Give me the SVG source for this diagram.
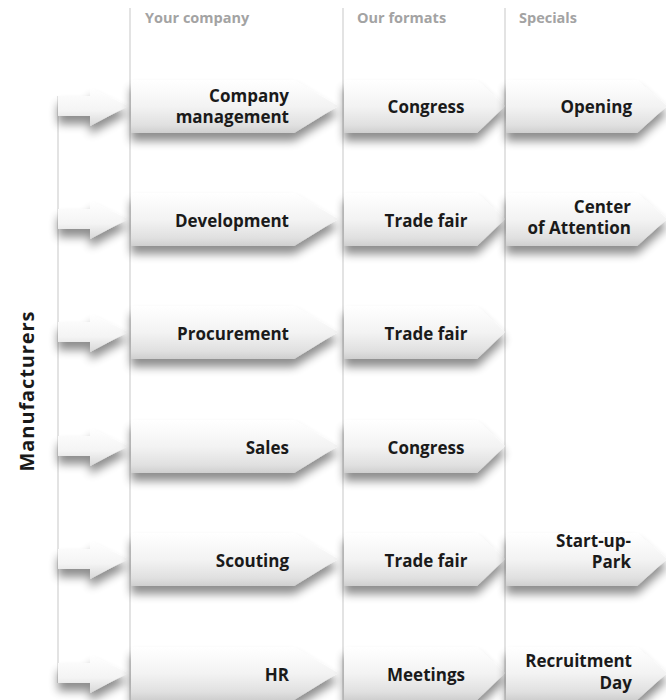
<svg xmlns="http://www.w3.org/2000/svg" width="666" height="700" viewBox="0 0 666 700">
  <defs>
    <linearGradient id="g" x1="0" y1="0" x2="0" y2="1">
      <stop offset="0" stop-color="#ffffff"/>
      <stop offset="0.5" stop-color="#f3f3f3"/>
      <stop offset="0.85" stop-color="#e0e0e0"/>
      <stop offset="1" stop-color="#cfcfcf"/>
    </linearGradient>
    <linearGradient id="gs" x1="0" y1="0" x2="0" y2="1">
      <stop offset="0" stop-color="#ffffff"/>
      <stop offset="0.6" stop-color="#f4f4f4"/>
      <stop offset="1" stop-color="#d8d8d8"/>
    </linearGradient>
    <filter id="sh" x="-20%" y="-50%" width="140%" height="220%">
      <feGaussianBlur in="SourceAlpha" stdDeviation="5"/>
      <feOffset dy="8" result="o"/>
      <feComponentTransfer>
        <feFuncA type="linear" slope="0.45"/>
      </feComponentTransfer>
      <feMerge>
        <feMergeNode/>
        <feMergeNode in="SourceGraphic"/>
      </feMerge>
    </filter>
  </defs>
  <style>
    .guide { stroke: #e3e3e3; stroke-width: 2; fill: none; }
    .hdr { font-family: "Open Sans", "Liberation Sans", sans-serif; font-weight: 700; font-size: 14.5px; fill: #a3a3a3; }
    .box { fill: url(#g); filter: url(#sh); }
    .small { fill: url(#gs); filter: url(#sh); }
    .lbl { font-family: "Open Sans", "Liberation Sans", sans-serif; font-weight: 700; font-size: 17px; fill: #1a1a1a; }
    .r { text-anchor: end; }
    .c { text-anchor: middle; }
    .side { font-family: "Open Sans", "Liberation Sans", sans-serif; font-weight: 700; font-size: 20px; fill: #1a1a1a; letter-spacing: 0.9px; }
  </style>

  <g id="guides">
    <line class="guide" x1="130" y1="8" x2="130" y2="700"/>
    <line class="guide" x1="343" y1="8" x2="343" y2="700"/>
    <line class="guide" x1="505" y1="8" x2="505" y2="700"/>
  </g>

  <g id="headers">
    <text class="hdr" x="145" y="23">Your company</text>
    <text class="hdr" x="357" y="23">Our formats</text>
    <text class="hdr" x="519" y="23">Specials</text>
  </g>

  <g id="manufacturers">
    <text class="side" transform="translate(34,391) rotate(-90)" text-anchor="middle">Manufacturers</text>
  </g>

  <g id="connectors">
    <line class="guide" x1="58" y1="96" x2="58" y2="683"/>
    <path class="small" d="M58,96 H90 V88 L128,106 L90,126 V116 H58 Z"/>
    <path class="small" d="M58,209 H90 V201 L128,219 L90,239 V229 H58 Z"/>
    <path class="small" d="M58,322 H90 V314 L128,332 L90,352 V342 H58 Z"/>
    <path class="small" d="M58,436 H90 V428 L128,446 L90,466 V456 H58 Z"/>
    <path class="small" d="M58,549 H90 V541 L128,559 L90,579 V569 H58 Z"/>
    <path class="small" d="M58,663 H90 V655 L128,673 L90,693 V683 H58 Z"/>
  </g>

  <g id="row1-company">
    <path class="box" d="M131,80 H294 L338,106 L294,133 H131 Z"/>
    <text class="lbl r" x="289" y="102">Company</text>
    <text class="lbl r" x="289" y="123">management</text>
  </g>
  <g id="row1-format">
    <path class="box" d="M344,80 H477 L505,106 L477,133 H344 Z"/>
    <text class="lbl c" x="426" y="113">Congress</text>
  </g>
  <g id="row1-special">
    <path class="box" d="M506,80 H637 L667,106 L637,133 H506 Z"/>
    <text class="lbl r" x="632" y="113">Opening</text>
  </g>

  <g id="row2-company">
    <path class="box" d="M131,193 H294 L338,219 L294,246 H131 Z"/>
    <text class="lbl r" x="289" y="227">Development</text>
  </g>
  <g id="row2-format">
    <path class="box" d="M344,193 H477 L505,219 L477,246 H344 Z"/>
    <text class="lbl c" x="426" y="227">Trade fair</text>
  </g>
  <g id="row2-special">
    <path class="box" d="M506,193 H637 L667,219 L637,246 H506 Z"/>
    <text class="lbl r" x="631" y="213">Center</text>
    <text class="lbl r" x="631" y="234">of Attention</text>
  </g>

  <g id="row3-company">
    <path class="box" d="M131,306 H294 L338,332 L294,359 H131 Z"/>
    <text class="lbl r" x="289" y="340">Procurement</text>
  </g>
  <g id="row3-format">
    <path class="box" d="M344,306 H477 L505,332 L477,359 H344 Z"/>
    <text class="lbl c" x="426" y="340">Trade fair</text>
  </g>

  <g id="row4-company">
    <path class="box" d="M131,420 H294 L338,446 L294,473 H131 Z"/>
    <text class="lbl r" x="289" y="454">Sales</text>
  </g>
  <g id="row4-format">
    <path class="box" d="M344,420 H477 L505,446 L477,473 H344 Z"/>
    <text class="lbl c" x="426" y="454">Congress</text>
  </g>

  <g id="row5-company">
    <path class="box" d="M131,533 H294 L338,559 L294,586 H131 Z"/>
    <text class="lbl r" x="289" y="567">Scouting</text>
  </g>
  <g id="row5-format">
    <path class="box" d="M344,533 H477 L505,559 L477,586 H344 Z"/>
    <text class="lbl c" x="426" y="567">Trade fair</text>
  </g>
  <g id="row5-special">
    <path class="box" d="M506,533 H637 L667,559 L637,586 H506 Z"/>
    <text class="lbl r" x="631" y="547">Start-up-</text>
    <text class="lbl r" x="631" y="568">Park</text>
  </g>

  <g id="row6-company">
    <path class="box" d="M131,647 H294 L338,673 L294,700 H131 Z"/>
    <text class="lbl r" x="289" y="681">HR</text>
  </g>
  <g id="row6-format">
    <path class="box" d="M344,647 H477 L505,673 L477,700 H344 Z"/>
    <text class="lbl c" x="426" y="681">Meetings</text>
  </g>
  <g id="row6-special">
    <path class="box" d="M506,647 H637 L667,673 L637,700 H506 Z"/>
    <text class="lbl r" x="632" y="667">Recruitment</text>
    <text class="lbl r" x="632" y="689">Day</text>
  </g>
</svg>
